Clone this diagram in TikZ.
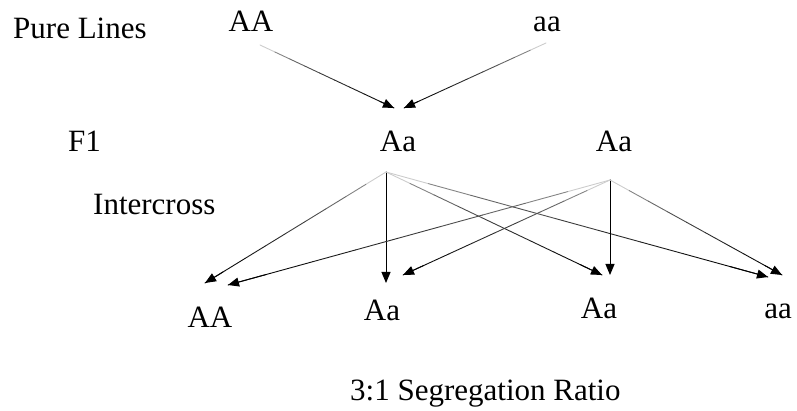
\documentclass[tikz,border=0pt]{standalone}
\usepackage{fontspec}
\setmainfont{Liberation Serif}
\usetikzlibrary{arrows.meta,calc}
\tikzset{gtxt/.style={font=\fontsize{31}{36}\selectfont,inner sep=0pt},
	tip/.style={-{Triangle[length=11pt,width=9pt]}}}
% line fading from light grey to black, with a tip at the end
\newcommand\fadearrow[2]{%
	\foreach \k [evaluate=\k as \kk using \k+1, evaluate=\k as \pc using 20+80*sqrt(\k/8)] in {0,...,8}
	\draw[line width=.9pt,black!\pc] ($(#1)!\k/9!(#2)$)--($(#1)!\kk/9!(#2)$);
	\draw[tip,line width=.9pt] ($(#1)!.9!(#2)$)--(#2);}
\begin{document}
\begin{tikzpicture}[x=1pt,y=-1pt,line join=round,line cap=round]
			\useasboundingbox (0,0) rectangle (797,411);
			\node[gtxt,anchor=base west] (pure) at (13,39) {Pure Lines};
			\node[gtxt,anchor=base] (pAA) at (251,32) {AA};
			\node[gtxt,anchor=base] (paa) at (547,32) {aa};
			\node[gtxt,anchor=base west] (fone) at (68,152) {F1};
			\node[gtxt,anchor=base] (fAa) at (398,152) {Aa};
			\node[gtxt,anchor=base] (fAb) at (614,152) {Aa};
			\node[gtxt,anchor=base west] (icross) at (93,215) {Intercross};
			\node[gtxt,anchor=base] (oAA) at (210,327) {AA};
			\node[gtxt,anchor=base] (oAa) at (382,320) {Aa};
			\node[gtxt,anchor=base] (oAb) at (599,319) {Aa};
			\node[gtxt,anchor=base] (oaa) at (778,319) {aa};
			\node[gtxt,anchor=base west] (ratio) at (350,400) {3:1 Segregation Ratio};
			% ends of the connectors
			\coordinate (pAA-out) at (260,45); \coordinate (paa-out) at (546,43);
			\coordinate (fAa-inl) at (394,108); \coordinate (fAa-inr) at (404,108);
			\coordinate (fAa-out) at (386,172); \coordinate (fAb-out) at (610,180);
			\coordinate (oAA-inl) at (205,283); \coordinate (oAA-inr) at (228,285);
			\coordinate (oAa-inl) at (386,283); \coordinate (oAa-inr) at (403,275);
			\coordinate (oAb-inl) at (602,275); \coordinate (oAb-inr) at (610,275);
			\coordinate (oaa-inl) at (768,277); \coordinate (oaa-inr) at (782,275);
			\fadearrow{pAA-out}{fAa-inl}
			\fadearrow{paa-out}{fAa-inr}
			\fadearrow{fAa-out}{oAA-inl}
			\draw[tip,line width=1pt] (fAa-out)--(oAa-inl);
			\fadearrow{fAa-out}{oAb-inl}
			\fadearrow{fAa-out}{oaa-inl}
			\fadearrow{fAb-out}{oAA-inr}
			\fadearrow{fAb-out}{oAa-inr}
			\draw[tip,line width=1pt] (fAb-out)--(oAb-inr);
			\fadearrow{fAb-out}{oaa-inr}
		\end{tikzpicture}
\end{document}
